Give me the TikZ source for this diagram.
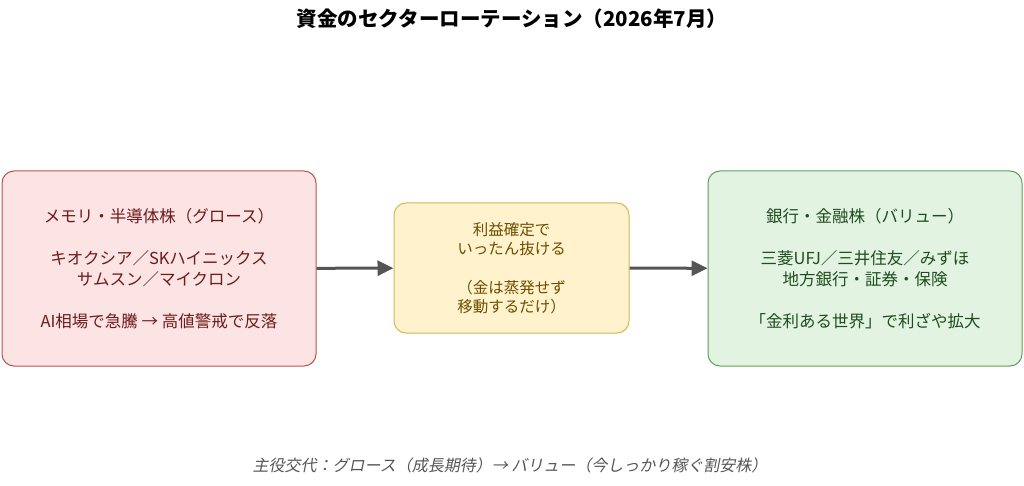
\documentclass[tikz,border=0pt]{standalone}
\usepackage{fontspec}
\setmainfont{Noto Sans CJK JP}
\newfontfamily\capfont{Noto Sans CJK JP}[FakeSlant=0.2]
\usetikzlibrary{positioning,arrows.meta}
\definecolor{growthfill}{RGB}{252,228,228}
\definecolor{growthline}{RGB}{184,84,80}
\definecolor{growthtext}{RGB}{110,26,26}
\definecolor{shiftfill}{RGB}{255,242,204}
\definecolor{shiftline}{RGB}{214,182,86}
\definecolor{shifttext}{RGB}{110,78,0}
\definecolor{valuefill}{RGB}{226,243,226}
\definecolor{valueline}{RGB}{90,160,90}
\definecolor{valuetext}{RGB}{30,77,30}
\definecolor{flowgray}{RGB}{85,85,85}
\tikzset{x=1pt,y=-1pt}
\tikzstyle{sector}=[draw,rounded corners=12pt,line width=1pt,align=center,font=\fontsize{16.5}{21}\selectfont,inner sep=0pt]
\tikzstyle{flow}=[-{Triangle[length=16pt,width=15pt]},line width=3pt,flowgray]
\begin{document}
\begin{tikzpicture}
  \useasboundingbox (0,0) rectangle (1024,486);
  \node (title) at (512,19) {\fontsize{20.5}{24}\selectfont\bfseries 資金のセクターローテーション（2026年7月）};

  \node[sector,fill=growthfill,draw=growthline,text=growthtext,minimum width=314pt,minimum height=195pt] (growth) at (159,268.5)
    {メモリ・半導体株（グロース）\\[21pt]キオクシア／SKハイニックス\\サムスン／マイクロン\\[21pt]AI相場で急騰 → 高値警戒で反落};
  \node[sector,fill=shiftfill,draw=shiftline,text=shifttext,minimum width=235pt,minimum height=130pt,font=\fontsize{15.5}{19}\selectfont] (shift) at (511.5,268)
    {利益確定で\\いったん抜ける\\[20pt]（金は蒸発せず\\移動するだけ）};
  \node[sector,fill=valuefill,draw=valueline,text=valuetext,minimum width=314pt,minimum height=195pt] (value) at (865,268.5)
    {銀行・金融株（バリュー）\\[21pt]三菱UFJ／三井住友／みずほ\\地方銀行・証券・保険\\[21pt]「金利ある世界」で利ざや拡大};

  \draw[flow] (growth) -- (shift);
  \draw[flow] (shift) -- (value);

  \node[text=flowgray] (caption) at (510,465) {\capfont\fontsize{16}{20}\selectfont 主役交代：グロース（成長期待）→ バリュー（今しっかり稼ぐ割安株）};
\end{tikzpicture}
\end{document}
